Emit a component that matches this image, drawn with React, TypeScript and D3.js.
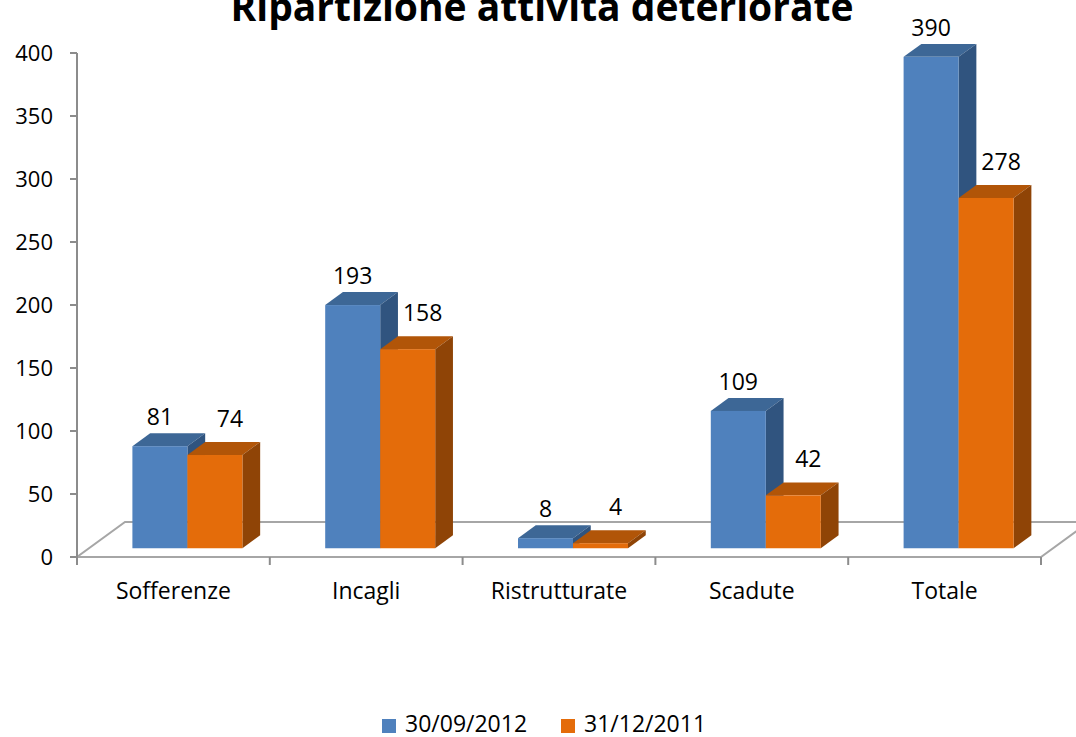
import React from 'react';
import * as d3 from 'd3';

const categories = ['Sofferenze', 'Incagli', 'Ristrutturate', 'Scadute', 'Totale'];
const seriesNames = ['30/09/2012', '31/12/2011'];
const values2012 = [81, 193, 8, 109, 390];
const values2011 = [74, 158, 4, 42, 278];
const yTicks = [0, 50, 100, 150, 200, 250, 300, 350, 400];

const W = 1076;
const H = 737;
const FONT = '"Open Sans", "DejaVu Sans", sans-serif';

// 3D look: full floor depth, and where the bars sit in it
const DEPTH = { x: 48, y: -35 };
const BAR_FRONT = 0.25;
const BAR_DEPTH = 0.37;

const palette = [
  { front: '#4F81BD', top: '#3D6796', side: '#30547F' },
  { front: '#E46C0A', top: '#B15508', side: '#8F4406' },
];

export default function App() {
  const left = 77;
  const right = 1041;
  const floorY = 557;

  const x = d3.scaleBand<string>().domain(categories).range([left, right]);
  const inner = d3.scaleBand<string>().domain(seriesNames).range([-55, 55]);
  const y = d3.scaleLinear().domain([0, 400]).range([floorY, 53]);

  const series = [values2012, values2011];
  const proj = (px: number, py: number, d: number): [number, number] => [px + d * DEPTH.x, py + d * DEPTH.y];
  const poly = (pts: [number, number][]) => pts.map(p => p.join(',')).join(' ');

  const dx = BAR_DEPTH * DEPTH.x;
  const dy = BAR_DEPTH * DEPTH.y;

  return (
    <svg width={W} height={H} style={{ position: 'absolute', left: 0, top: 0, background: '#fff' }}>
      {/* Title */}
      <text x={542} y={21} textAnchor="middle" fontFamily={FONT} fontWeight="bold" fontSize={39} fill="#000">
        Ripartizione attività deteriorate
      </text>

      {/* Floor */}
      <polygon
        points={poly([
          [left, floorY],
          [right, floorY],
          proj(right, floorY, 1),
          proj(left, floorY, 1),
        ])}
        fill="none"
        stroke="#A6A6A6"
        strokeWidth={2}
      />

      {/* Y axis */}
      <line x1={left} y1={y(400)} x2={left} y2={floorY} stroke="#8C8C8C" strokeWidth={2} />
      {yTicks.map(t => (
        <g key={t}>
          <line x1={left - 7} y1={y(t)} x2={left} y2={y(t)} stroke="#8C8C8C" strokeWidth={2} />
          <text x={53} y={y(t)} dy="0.35em" textAnchor="end" fontFamily={FONT} fontSize={22} fill="#000">
            {t}
          </text>
        </g>
      ))}

      {/* X axis ticks and labels */}
      {[...categories.map(c => x(c) as number), right].map((tx, i) => (
        <line key={i} x1={tx} y1={floorY} x2={tx} y2={floorY + 8} stroke="#8C8C8C" strokeWidth={2} />
      ))}
      {categories.map(c => (
        <text
          key={c}
          x={(x(c) as number) + x.bandwidth() / 2}
          y={599}
          textAnchor="middle"
          fontFamily={FONT}
          fontSize={23}
          fill="#000"
        >
          {c}
        </text>
      ))}

      {/* Bars */}
      {categories.map((c, ci) => {
        const cx = (x(c) as number) + x.bandwidth() / 2 + 2;
        return (
          <g key={c}>
            {series.map((vals, si) => {
              const col = palette[si];
              const x0 = cx + (inner(seriesNames[si]) as number);
              const x1 = x0 + inner.bandwidth();
              const [fx0, fyTop] = proj(x0, y(vals[ci]), BAR_FRONT);
              const [fx1, fyBot] = proj(x1, y(0), BAR_FRONT);
              return (
                <g key={si}>
                  <polygon
                    points={poly([
                      [fx0, fyTop],
                      [fx1, fyTop],
                      [fx1 + dx, fyTop + dy],
                      [fx0 + dx, fyTop + dy],
                    ])}
                    fill={col.top}
                  />
                  <polygon
                    points={poly([
                      [fx1, fyTop],
                      [fx1 + dx, fyTop + dy],
                      [fx1 + dx, fyBot + dy],
                      [fx1, fyBot],
                    ])}
                    fill={col.side}
                  />
                  <rect x={fx0} y={fyTop} width={fx1 - fx0} height={fyBot - fyTop} fill={col.front} />
                </g>
              );
            })}
          </g>
        );
      })}

      {/* Value labels */}
      {categories.map((c, ci) => {
        const cx = (x(c) as number) + x.bandwidth() / 2 + 2;
        return series.map((vals, si) => {
          const x0 = cx + (inner(seriesNames[si]) as number);
          const [fx, fy] = proj(x0 + inner.bandwidth() / 2, y(vals[ci]), BAR_FRONT);
          return (
            <text
              key={`${c}-${si}`}
              x={fx + (si === 1 ? 15 : 0)}
              y={fy - (si === 1 ? 28 : 21)}
              textAnchor="middle"
              fontFamily={FONT}
              fontSize={23}
              fill="#000"
            >
              {vals[ci]}
            </text>
          );
        });
      })}

      {/* Legend */}
      {seriesNames.map((name, i) => {
        const lx = i === 0 ? 382 : 561;
        return (
          <g key={name}>
            <rect x={lx} y={719} width={14} height={14} fill={palette[i].front} />
            <text x={lx + 23} y={732} fontFamily={FONT} fontSize={23} fill="#000">
              {name}
            </text>
          </g>
        );
      })}
    </svg>
  );
}
